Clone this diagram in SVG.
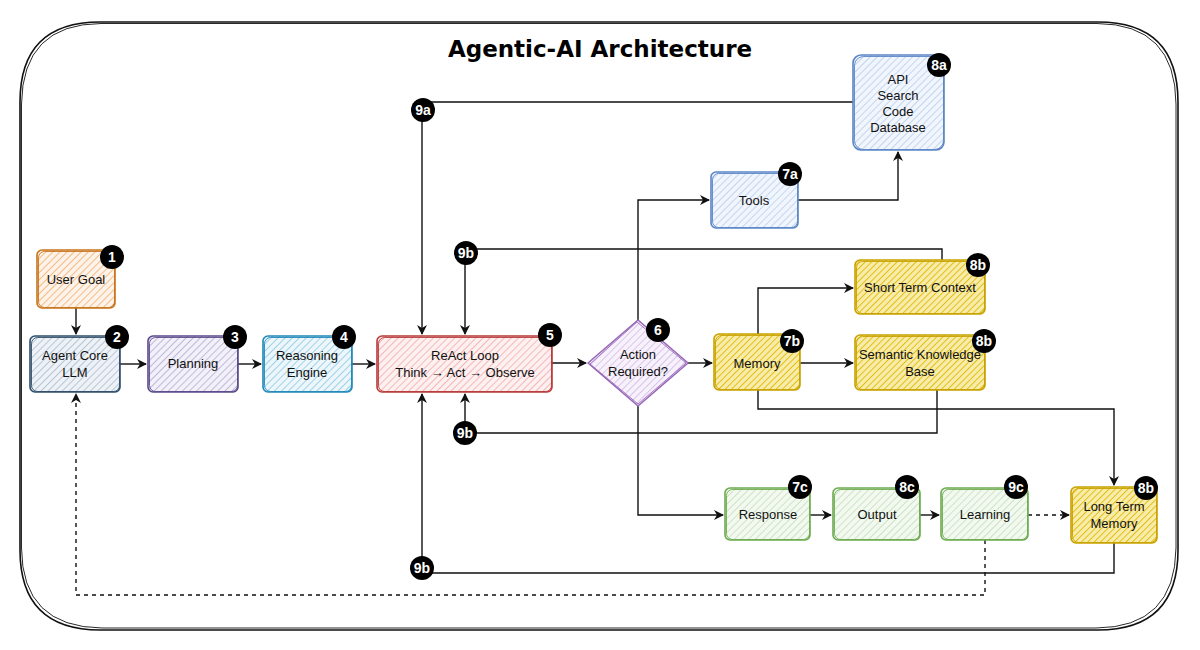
<svg xmlns="http://www.w3.org/2000/svg" width="1200" height="650" viewBox="0 0 1200 650">
  <style>
    .lbl { font-family: "Liberation Sans", Arial, sans-serif; font-size: 13px; fill: #111; text-anchor: middle; }
    .badge circle { fill: #000; }
    .badge text { font-family: "Liberation Sans", Arial, sans-serif; font-size: 14px; font-weight: bold; fill: #fff; text-anchor: middle; }
    .edge { fill: none; stroke: #111; stroke-width: 1.4; }
    .dash { stroke-dasharray: 4 4; }
    .frame { fill: none; stroke: #111; }
    .title { font-family: "DejaVu Sans", "Liberation Sans", sans-serif; font-size: 23px; font-weight: bold; fill: #000; text-anchor: middle; }
    .box { stroke-width: 1.6; stroke-linejoin: round; }
    .box2 { fill: none; stroke-width: 0.9; stroke-linejoin: round; }
  </style>
  <defs>
    <marker id="arrow" viewBox="0 0 10 10" refX="9" refY="5" markerWidth="10" markerHeight="10" markerUnits="userSpaceOnUse" orient="auto">
      <path d="M0,0 L10,5 L0,10 L3,5 Z" fill="#111"/>
    </marker>
    <pattern id="h-orange" width="5" height="5" patternUnits="userSpaceOnUse" patternTransform="rotate(45)">
      <rect width="5" height="5" fill="#fdf3ea"/><line x1="0" y1="0" x2="0" y2="5" stroke="#f3a55a" stroke-width="1.4"/>
    </pattern>
    <pattern id="h-core" width="5" height="5" patternUnits="userSpaceOnUse" patternTransform="rotate(45)">
      <rect width="5" height="5" fill="#eef2f6"/><line x1="0" y1="0" x2="0" y2="5" stroke="#9fb3c8" stroke-width="1.4"/>
    </pattern>
    <pattern id="h-purple" width="5" height="5" patternUnits="userSpaceOnUse" patternTransform="rotate(45)">
      <rect width="5" height="5" fill="#f2f0f8"/><line x1="0" y1="0" x2="0" y2="5" stroke="#aca2d0" stroke-width="1.4"/>
    </pattern>
    <pattern id="h-teal" width="5" height="5" patternUnits="userSpaceOnUse" patternTransform="rotate(45)">
      <rect width="5" height="5" fill="#ecf6fb"/><line x1="0" y1="0" x2="0" y2="5" stroke="#80c3df" stroke-width="1.4"/>
    </pattern>
    <pattern id="h-red" width="5" height="5" patternUnits="userSpaceOnUse" patternTransform="rotate(45)">
      <rect width="5" height="5" fill="#fdf0f0"/><line x1="0" y1="0" x2="0" y2="5" stroke="#f2a0a0" stroke-width="1.4"/>
    </pattern>
    <pattern id="h-violet" width="5" height="5" patternUnits="userSpaceOnUse" patternTransform="rotate(45)">
      <rect width="5" height="5" fill="#f7f1fb"/><line x1="0" y1="0" x2="0" y2="5" stroke="#cfb3e3" stroke-width="1.4"/>
    </pattern>
    <pattern id="h-blue" width="5" height="5" patternUnits="userSpaceOnUse" patternTransform="rotate(45)">
      <rect width="5" height="5" fill="#f1f5fc"/><line x1="0" y1="0" x2="0" y2="5" stroke="#b1c9ee" stroke-width="1.4"/>
    </pattern>
    <pattern id="h-yellow" width="4.5" height="4.5" patternUnits="userSpaceOnUse" patternTransform="rotate(45)">
      <rect width="4.5" height="4.5" fill="#f8ecaa"/><line x1="0" y1="0" x2="0" y2="4.5" stroke="#e2bd10" stroke-width="1.9"/>
    </pattern>
    <pattern id="h-green" width="5" height="5" patternUnits="userSpaceOnUse" patternTransform="rotate(45)">
      <rect width="5" height="5" fill="#f3f9f0"/><line x1="0" y1="0" x2="0" y2="5" stroke="#bcdcae" stroke-width="1.4"/>
    </pattern>
  </defs>

  <rect width="1200" height="650" fill="#fff"/>

  <!-- outer frame, drawn twice with a slight offset for a hand-drawn look -->
  <g id="frame">
    <path class="frame" stroke-width="1.6" d="M100,22 H1098 Q1178,22 1178,102 V550 Q1178,630 1098,630 H100 Q20,630 20,550 V102 Q20,22 100,22 Z"/>
    <path class="frame" stroke-width="0.9" d="M101,23.5 H1097 Q1175.5,24 1176,104 V548 Q1175,627.5 1096,628 H102 Q22,627 21.5,548 V104 Q22.5,24 101,23.5 Z"/>
  </g>

  <text class="title" x="600" y="57">Agentic-AI Architecture</text>

  <!-- connectors -->
  <g id="connectors">
    <path class="edge" d="M76,308 V334" marker-end="url(#arrow)"/>
    <path class="edge" d="M120,364 H146" marker-end="url(#arrow)"/>
    <path class="edge" d="M238,364 H261" marker-end="url(#arrow)"/>
    <path class="edge" d="M352,364 H375" marker-end="url(#arrow)"/>
    <path class="edge" d="M552,363 H586" marker-end="url(#arrow)"/>
    <path class="edge" d="M688,363 H712" marker-end="url(#arrow)"/>
    <path class="edge" d="M638,320 V200 H709" marker-end="url(#arrow)"/>
    <path class="edge" d="M638,406 V515 H723" marker-end="url(#arrow)"/>
    <path class="edge" d="M798,200 H898 V152" marker-end="url(#arrow)"/>
    <path class="edge" d="M853,102 H422 V334" marker-end="url(#arrow)"/>
    <path class="edge" d="M942,260 V249 H465 V334" marker-end="url(#arrow)"/>
    <path class="edge" d="M758,334 V288 H853" marker-end="url(#arrow)"/>
    <path class="edge" d="M800,363 H853" marker-end="url(#arrow)"/>
    <path class="edge" d="M937,390 V433 H465 V394" marker-end="url(#arrow)"/>
    <path class="edge" d="M758,390 V409 H1114 V485" marker-end="url(#arrow)"/>
    <path class="edge" d="M810,515 H831" marker-end="url(#arrow)"/>
    <path class="edge" d="M920,515 H939" marker-end="url(#arrow)"/>
    <path class="edge dash" d="M1028,515 H1069" marker-end="url(#arrow)"/>
    <path class="edge" d="M1114,543 V573 H422 V394" marker-end="url(#arrow)"/>
    <path class="edge dash" d="M985,540 V595 H76 V394" marker-end="url(#arrow)"/>
  </g>

  <!-- nodes -->
  <g id="user-goal">
    <rect class="box" x="37" y="250" width="78" height="58" rx="5" fill="url(#h-orange)" stroke="#c8741c"/>
    <rect class="box2" x="38.5" y="251.5" width="76" height="56" rx="6" stroke="#c8741c"/>
    <text class="lbl" x="76" y="284">User Goal</text>
  </g>
  <g id="agent-core">
    <rect class="box" x="30" y="336" width="90" height="56" rx="5" fill="url(#h-core)" stroke="#2f4d6b"/>
    <rect class="box2" x="31.5" y="337.5" width="88" height="54" rx="6" stroke="#2f4d6b"/>
    <text class="lbl" x="75" y="360">Agent Core</text>
    <text class="lbl" x="75" y="377">LLM</text>
  </g>
  <g id="planning">
    <rect class="box" x="148" y="336" width="90" height="56" rx="5" fill="url(#h-purple)" stroke="#5b4a8b"/>
    <rect class="box2" x="149.5" y="337.5" width="88" height="54" rx="6" stroke="#5b4a8b"/>
    <text class="lbl" x="193" y="368">Planning</text>
  </g>
  <g id="reasoning">
    <rect class="box" x="263" y="336" width="89" height="56" rx="5" fill="url(#h-teal)" stroke="#2088b8"/>
    <rect class="box2" x="264.5" y="337.5" width="87" height="54" rx="6" stroke="#2088b8"/>
    <text class="lbl" x="307" y="360">Reasoning</text>
    <text class="lbl" x="307" y="377">Engine</text>
  </g>
  <g id="react-loop">
    <rect class="box" x="377" y="336" width="175" height="56" rx="5" fill="url(#h-red)" stroke="#b83a3a"/>
    <rect class="box2" x="378.5" y="337.5" width="173" height="54" rx="6" stroke="#b83a3a"/>
    <text class="lbl" x="465" y="360">ReAct Loop</text>
    <text class="lbl" x="465" y="377">Think → Act → Observe</text>
  </g>
  <g id="action-required">
    <path class="box" d="M638,320 L688,363 L638,406 L588,363 Z" fill="url(#h-violet)" stroke="#9868b8"/>
    <path class="box2" d="M637,322 L686,363 L638,404 L590,364 Z" stroke="#9868b8"/>
    <text class="lbl" x="638" y="359">Action</text>
    <text class="lbl" x="638" y="376">Required?</text>
  </g>
  <g id="tools">
    <rect class="box" x="711" y="172" width="87" height="56" rx="5" fill="url(#h-blue)" stroke="#5b86c6"/>
    <rect class="box2" x="712.5" y="173.5" width="85" height="54" rx="6" stroke="#5b86c6"/>
    <text class="lbl" x="754" y="205">Tools</text>
  </g>
  <g id="external">
    <rect class="box" x="853" y="55" width="91" height="95" rx="8" fill="url(#h-blue)" stroke="#5b86c6"/>
    <rect class="box2" x="854.5" y="56.5" width="89" height="93" rx="9" stroke="#5b86c6"/>
    <text class="lbl" x="898" y="84">API</text>
    <text class="lbl" x="898" y="100">Search</text>
    <text class="lbl" x="898" y="116">Code</text>
    <text class="lbl" x="898" y="132">Database</text>
  </g>
  <g id="memory">
    <rect class="box" x="714" y="334" width="86" height="56" rx="5" fill="url(#h-yellow)" stroke="#c8a200"/>
    <rect class="box2" x="715.5" y="335.5" width="84" height="54" rx="6" stroke="#c8a200"/>
    <text class="lbl" x="757" y="368">Memory</text>
  </g>
  <g id="short-term">
    <rect class="box" x="855" y="260" width="130" height="54" rx="5" fill="url(#h-yellow)" stroke="#c8a200"/>
    <rect class="box2" x="856.5" y="261.5" width="128" height="52" rx="6" stroke="#c8a200"/>
    <text class="lbl" x="920" y="292">Short Term Context</text>
  </g>
  <g id="semantic">
    <rect class="box" x="855" y="335" width="130" height="55" rx="5" fill="url(#h-yellow)" stroke="#c8a200"/>
    <rect class="box2" x="856.5" y="336.5" width="128" height="53" rx="6" stroke="#c8a200"/>
    <text class="lbl" x="920" y="359">Semantic Knowledge</text>
    <text class="lbl" x="920" y="376">Base</text>
  </g>
  <g id="response">
    <rect class="box" x="725" y="488" width="85" height="52" rx="5" fill="url(#h-green)" stroke="#6cab4f"/>
    <rect class="box2" x="726.5" y="489.5" width="83" height="50" rx="6" stroke="#6cab4f"/>
    <text class="lbl" x="768" y="519">Response</text>
  </g>
  <g id="output">
    <rect class="box" x="833" y="488" width="87" height="52" rx="5" fill="url(#h-green)" stroke="#6cab4f"/>
    <rect class="box2" x="834.5" y="489.5" width="85" height="50" rx="6" stroke="#6cab4f"/>
    <text class="lbl" x="877" y="519">Output</text>
  </g>
  <g id="learning">
    <rect class="box" x="941" y="488" width="87" height="52" rx="5" fill="url(#h-green)" stroke="#6cab4f"/>
    <rect class="box2" x="942.5" y="489.5" width="85" height="50" rx="6" stroke="#6cab4f"/>
    <text class="lbl" x="985" y="519">Learning</text>
  </g>
  <g id="long-term">
    <rect class="box" x="1071" y="487" width="86" height="56" rx="5" fill="url(#h-yellow)" stroke="#c8a200"/>
    <rect class="box2" x="1072.5" y="488.5" width="84" height="54" rx="6" stroke="#c8a200"/>
    <text class="lbl" x="1114" y="511">Long Term</text>
    <text class="lbl" x="1114" y="528">Memory</text>
  </g>

  <!-- numbered badges -->
  <g id="badges">
    <g class="badge"><circle cx="112" cy="257" r="12"/><text x="112" y="262">1</text></g>
    <g class="badge"><circle cx="117" cy="337" r="12"/><text x="117" y="342">2</text></g>
    <g class="badge"><circle cx="235" cy="337" r="12"/><text x="235" y="342">3</text></g>
    <g class="badge"><circle cx="344" cy="337" r="12"/><text x="344" y="342">4</text></g>
    <g class="badge"><circle cx="550" cy="335" r="12"/><text x="550" y="340">5</text></g>
    <g class="badge"><circle cx="658" cy="330" r="12"/><text x="658" y="335">6</text></g>
    <g class="badge"><circle cx="790" cy="174" r="12"/><text x="790" y="179">7a</text></g>
    <g class="badge"><circle cx="939" cy="65" r="12"/><text x="939" y="70">8a</text></g>
    <g class="badge"><circle cx="792" cy="341" r="12"/><text x="792" y="346">7b</text></g>
    <g class="badge"><circle cx="978" cy="265" r="12"/><text x="978" y="270">8b</text></g>
    <g class="badge"><circle cx="984" cy="341" r="12"/><text x="984" y="346">8b</text></g>
    <g class="badge"><circle cx="800" cy="487" r="12"/><text x="800" y="492">7c</text></g>
    <g class="badge"><circle cx="907" cy="487" r="12"/><text x="907" y="492">8c</text></g>
    <g class="badge"><circle cx="1016" cy="487" r="12"/><text x="1016" y="492">9c</text></g>
    <g class="badge"><circle cx="1146" cy="488" r="12"/><text x="1146" y="493">8b</text></g>
    <g class="badge"><circle cx="423" cy="110" r="12"/><text x="423" y="115">9a</text></g>
    <g class="badge"><circle cx="466" cy="253" r="12"/><text x="466" y="258">9b</text></g>
    <g class="badge"><circle cx="465" cy="433" r="12"/><text x="465" y="438">9b</text></g>
    <g class="badge"><circle cx="422" cy="568" r="12"/><text x="422" y="573">9b</text></g>
  </g>
</svg>
